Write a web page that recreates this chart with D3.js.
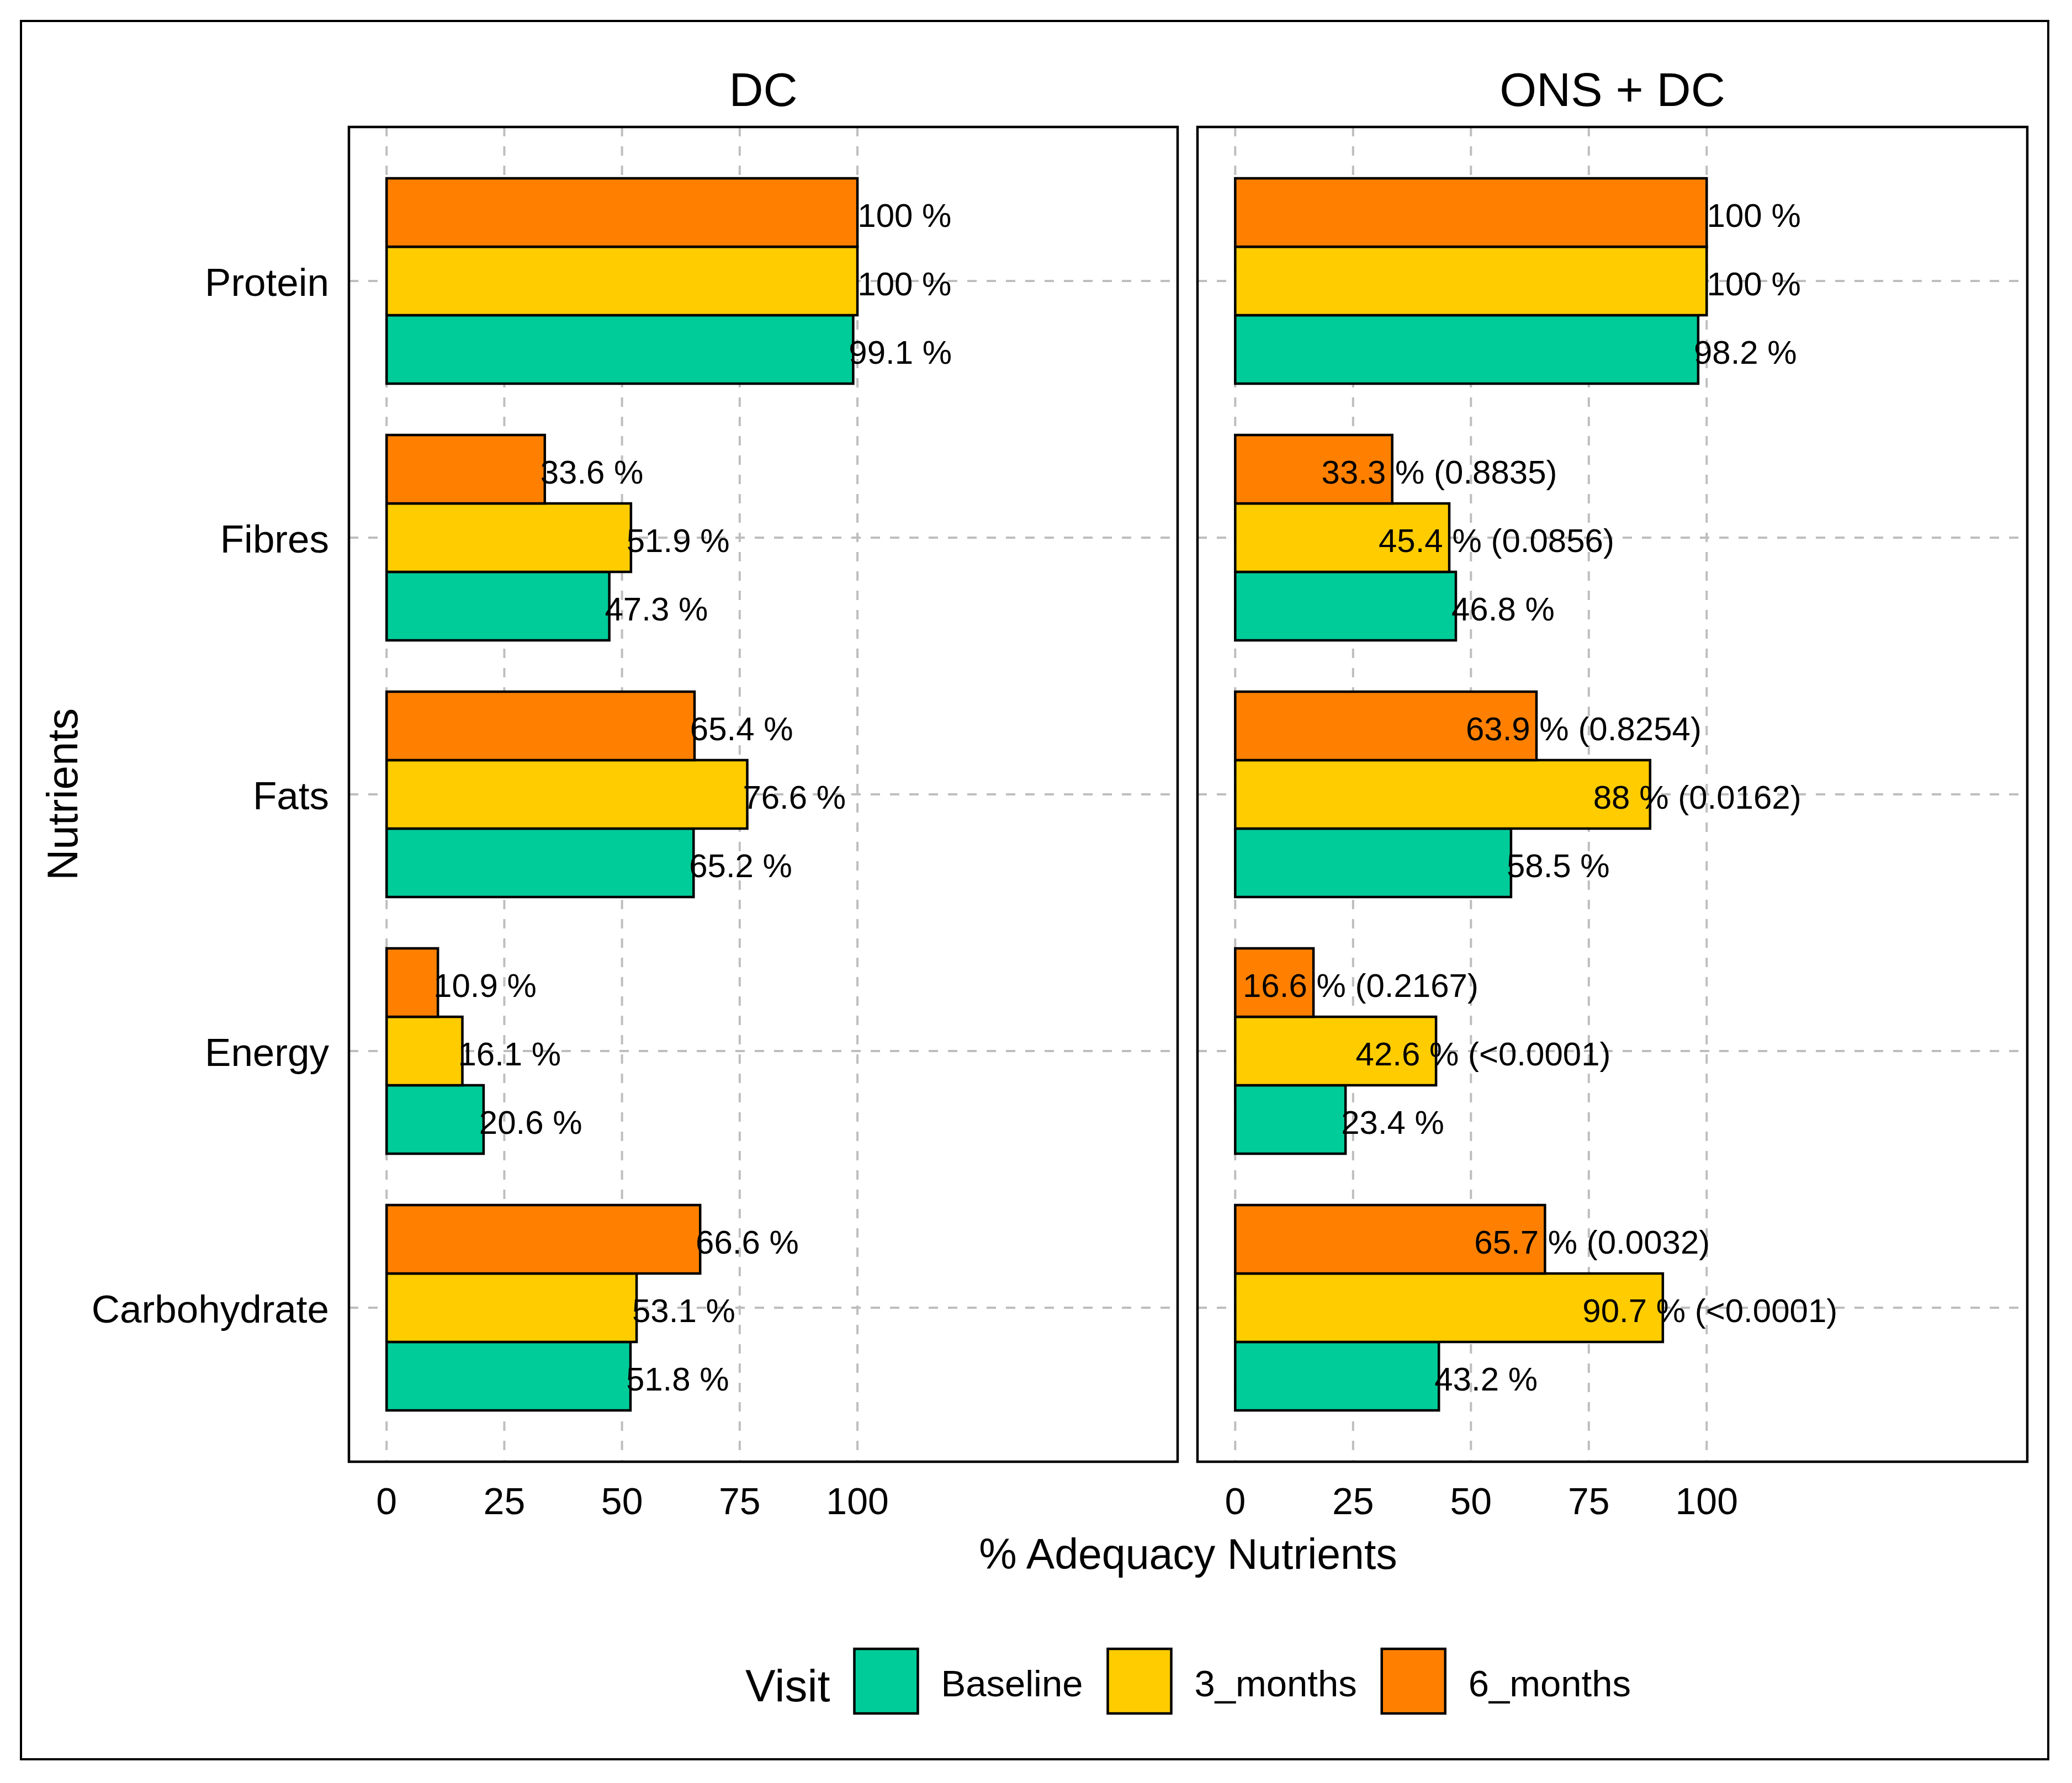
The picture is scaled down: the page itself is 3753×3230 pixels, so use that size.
<!DOCTYPE html>
<html>
<head>
<meta charset="utf-8">
<script src="https://cdn.jsdelivr.net/npm/d3@7"></script>
<style>
  body { margin: 0; background: #fff; }
  text { font-family: "Liberation Sans", Arial, sans-serif; fill: #000; }
</style>
</head>
<body>
<svg id="chart" width="3753" height="3230"></svg>
<script>
const nutrients = ["Protein", "Fibres", "Fats", "Energy", "Carbohydrate"];
const visits = ["Baseline", "3_months", "6_months"];
const groups = ["DC", "ONS + DC"];
const xTicks = [0, 25, 50, 75, 100];

// % adequacy, in nutrient order
const dcBaseline = [99.1, 47.3, 65.2, 20.6, 51.8];
const dc3months = [100, 51.9, 76.6, 16.1, 53.1];
const dc6months = [100, 33.6, 65.4, 10.9, 66.6];
const onsBaseline = [98.2, 46.8, 58.5, 23.4, 43.2];
const ons3months = [100, 45.4, 88, 42.6, 90.7];
const ons6months = [100, 33.3, 63.9, 16.6, 65.7];
// p-values printed next to the ONS + DC follow-up bars
const ons3monthsP = [null, "0.0856", "0.0162", "<0.0001", "<0.0001"];
const ons6monthsP = [null, "0.8835", "0.8254", "0.2167", "0.0032"];

const visitColors = ["#00CC99", "#FFCC00", "#FF8000"];
const labelOffset = 10;

const series = {
  "DC": [dcBaseline, dc3months, dc6months],
  "ONS + DC": [onsBaseline, ons3months, ons6months]
};
const pvals = {
  "DC": [[], [], []],
  "ONS + DC": [[], ons3monthsP, ons6monthsP]
};

const rows = [];
groups.forEach(g => {
  visits.forEach((v, vi) => {
    nutrients.forEach((n, ni) => {
      rows.push({ group: g, visit: v, nutrient: n, value: series[g][vi][ni], p: pvals[g][vi][ni] || null });
    });
  });
});

const svg = d3.select("#chart");
svg.append("rect").attr("width", 3753).attr("height", 3230).attr("fill", "#fff");
svg.append("rect").attr("x", 38).attr("y", 38).attr("width", 3672).attr("height", 3149)
  .attr("fill", "none").attr("stroke", "#000").attr("stroke-width", 4);

const panelTop = 230, panelBottom = 2648;
const panels = [{ group: "DC", x0: 632, x1: 2133 }, { group: "ONS + DC", x0: 2169, x1: 3672 }];

const color = d3.scaleOrdinal().domain(visits).range(visitColors);
const y = d3.scalePoint().domain(nutrients).range([panelTop, panelBottom]).padding(0.6);
const step = y.step();
const sub = d3.scaleBand().domain(visits.slice().reverse()).range([-0.4 * step, 0.4 * step]);

panels.forEach(p => {
  const x = d3.scaleLinear().domain([-8, 168]).range([p.x0, p.x1]);
  const g = svg.append("g");

  // grid
  g.selectAll("line.vg").data(xTicks).join("line")
    .attr("x1", d => x(d)).attr("x2", d => x(d))
    .attr("y1", panelTop).attr("y2", panelBottom)
    .attr("stroke", "#BEBEBE").attr("stroke-width", 4).attr("stroke-dasharray", "17,18");
  g.selectAll("line.hg").data(nutrients).join("line")
    .attr("x1", p.x0).attr("x2", p.x1)
    .attr("y1", d => y(d)).attr("y2", d => y(d))
    .attr("stroke", "#BEBEBE").attr("stroke-width", 4).attr("stroke-dasharray", "17,18");

  const data = rows.filter(r => r.group === p.group);

  g.selectAll("rect.bar").data(data).join("rect")
    .attr("x", x(0))
    .attr("y", d => y(d.nutrient) + sub(d.visit))
    .attr("width", d => x(d.value) - x(0))
    .attr("height", sub.bandwidth())
    .attr("fill", d => color(d.visit))
    .attr("stroke", "#000").attr("stroke-width", 4.5);

  g.selectAll("text.lab").data(data).join("text")
    .attr("x", d => x(d.value + labelOffset))
    .attr("y", d => y(d.nutrient) + sub(d.visit) + sub.bandwidth() / 2 + 26)
    .attr("text-anchor", "middle")
    .attr("font-size", 60)
    .text(d => d.value + " %" + (d.p ? " (" + d.p + ")" : ""));

  g.append("rect").attr("x", p.x0).attr("y", panelTop)
    .attr("width", p.x1 - p.x0).attr("height", panelBottom - panelTop)
    .attr("fill", "none").attr("stroke", "#000").attr("stroke-width", 4.5);

  // strip title
  svg.append("text").attr("x", (p.x0 + p.x1) / 2).attr("y", 192)
    .attr("text-anchor", "middle").attr("font-size", 86).text(p.group);

  // x tick labels
  g.selectAll("text.tick").data(xTicks).join("text")
    .attr("x", d => x(d)).attr("y", 2743)
    .attr("text-anchor", "middle").attr("font-size", 68)
    .text(d => d);
});

// y axis labels
svg.selectAll("text.cat").data(nutrients).join("text")
  .attr("x", 596).attr("y", d => y(d) + 27)
  .attr("text-anchor", "end").attr("font-size", 71)
  .text(d => d);

// axis titles
svg.append("text").attr("x", 2152).attr("y", 2842)
  .attr("text-anchor", "middle").attr("font-size", 77).text("% Adequacy Nutrients");
svg.append("text").attr("transform", "translate(140,1439) rotate(-90)")
  .attr("text-anchor", "middle").attr("font-size", 78).text("Nutrients");

// legend
const leg = svg.append("g");
const title = leg.append("text").attr("x", 0).attr("y", 3082).attr("font-size", 82).text("Visit");
let cursor = title.node().getComputedTextLength() + 44;
visits.forEach((v, i) => {
  leg.append("rect").attr("x", cursor).attr("y", 2987).attr("width", 115).attr("height", 117)
    .attr("fill", color(v)).attr("stroke", "#000").attr("stroke-width", 4.5);
  cursor += 115 + 42;
  const t = leg.append("text").attr("x", cursor).attr("y", 3073).attr("font-size", 67).text(v);
  cursor += t.node().getComputedTextLength();
  if (i < visits.length - 1) cursor += 45;
});
leg.attr("transform", `translate(${2152 - cursor / 2},0)`);
</script>
</body>
</html>
